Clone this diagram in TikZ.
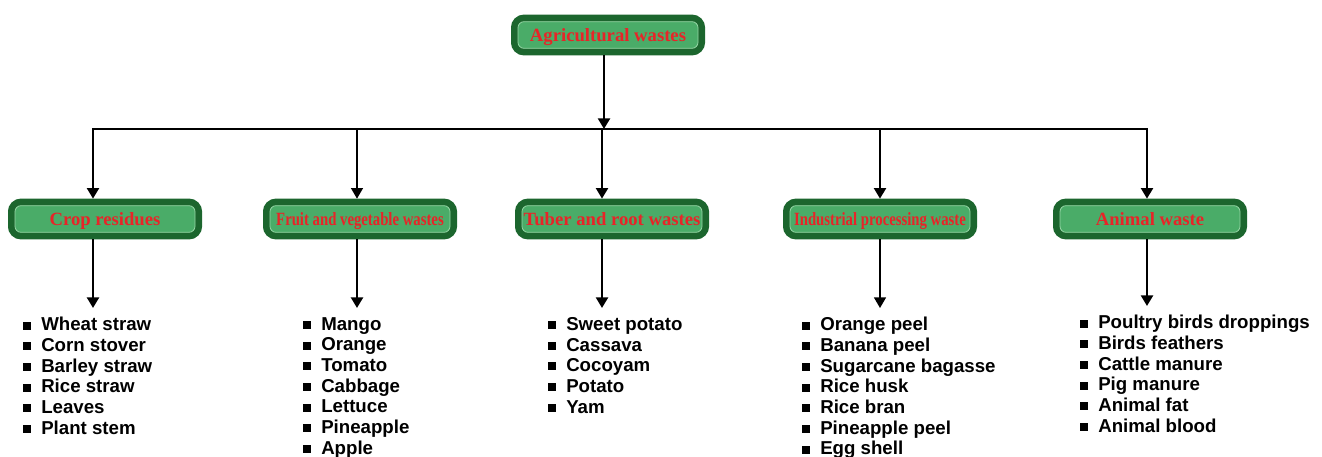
\documentclass[tikz,border=0pt]{standalone}
\usepackage{fontspec}
\usepackage{graphicx}
\setmainfont{Liberation Serif}
\newfontfamily\itemfont{Liberation Sans}
\usetikzlibrary{arrows.meta}

\definecolor{frameGreen}{RGB}{28,102,46}
\definecolor{fillGreen}{RGB}{74,172,104}
\definecolor{edgeGreen}{RGB}{150,214,165}
\definecolor{titleRed}{RGB}{232,36,40}

\newcommand\busRow{129}
\newcommand\boxRow{219}
\newcommand\listTop{308}
\newcommand\wasteBullet{\rule[1pt]{6pt}{6pt}\hspace{7.5pt}}
\newcommand\squeezed[1]{\scalebox{0.79}[1]{#1}}

\tikzset{
  wastebox/.style={rounded corners=4.5pt, fill=fillGreen, draw=edgeGreen, line width=0.6pt,
    preaction={draw=frameGreen, line width=10.5pt},
    minimum width=135pt, minimum height=20pt, inner sep=0pt, outer sep=5.25pt,
    text depth=0pt, text=titleRed, font=\bfseries\fontsize{14}{16}\selectfont},
  flow/.style={line width=1.8pt, -{Triangle[width=9pt,length=8pt]}},
  thinflow/.style={flow, line width=1.1pt},
  wastelist/.style={anchor=north west, align=left, inner sep=0pt, outer ysep=7pt,
    font=\itemfont\bfseries\fontsize{14}{15.5}\selectfont}
}

\begin{document}
\begin{tikzpicture}[x=0.75pt,y=-0.75pt]

    \useasboundingbox (0,0) rectangle (1322,457);

    \node[wastebox] (agri) at (608,35) {Agricultural wastes};

    \node[wastebox] (crop) at (105,\boxRow) {Crop residues};
    \node[wastebox] (fruit) at (360,\boxRow) {\squeezed{Fruit and vegetable wastes}};
    \node[wastebox] (tuber) at (612,\boxRow) {Tuber and root wastes};
    \node[wastebox] (industry) at (880,\boxRow) {\squeezed{Industrial processing waste}};
    \node[wastebox] (animal) at (1150,\boxRow) {Animal waste};

    \coordinate (busTop) at (604,\busRow);
    \coordinate (busCrop) at (93,\busRow);
    \coordinate (busFruit) at (357,\busRow);
    \coordinate (busTuber) at (602,\busRow);
    \coordinate (busIndustry) at (880,\busRow);
    \coordinate (busAnimal) at (1147,\busRow);

    \draw[flow] (agri.south -| busTop) -- (busTop);
    \draw[flow] (busTop) -- (busCrop) -- (busCrop |- crop.north);
    \draw[flow] (busTop) -- (busAnimal) -- (busAnimal |- animal.north);
    \draw[thinflow] (busFruit) -- (busFruit |- fruit.north);
    \draw[flow] (busTuber) -- (busTuber |- tuber.north);
    \draw[flow] (busIndustry) -- (busIndustry |- industry.north);

    \node[wastelist] (cropList) at (23,\listTop) {\wasteBullet Wheat straw\\ \wasteBullet Corn stover\\ \wasteBullet Barley straw\\ \wasteBullet Rice straw\\ \wasteBullet Leaves\\ \wasteBullet Plant stem};
    \node[wastelist] (fruitList) at (303,\listTop) {\wasteBullet Mango\\ \wasteBullet Orange\\ \wasteBullet Tomato\\ \wasteBullet Cabbage\\ \wasteBullet Lettuce\\ \wasteBullet Pineapple\\ \wasteBullet Apple};
    \node[wastelist] (tuberList) at (548,\listTop) {\wasteBullet Sweet potato\\ \wasteBullet Cassava\\ \wasteBullet Cocoyam\\ \wasteBullet Potato\\ \wasteBullet Yam};
    \node[wastelist] (industryList) at (802,\listTop) {\wasteBullet Orange peel\\ \wasteBullet Banana peel\\ \wasteBullet Sugarcane bagasse\\ \wasteBullet Rice husk\\ \wasteBullet Rice bran\\ \wasteBullet Pineapple peel\\ \wasteBullet Egg shell};
    \node[wastelist] (animalList) at (1080,306) {\wasteBullet Poultry birds droppings\\ \wasteBullet Birds feathers\\ \wasteBullet Cattle manure\\ \wasteBullet Pig manure\\ \wasteBullet Animal fat\\ \wasteBullet Animal blood};

    \draw[flow] (busCrop |- crop.south) -- (busCrop |- cropList.north);
    \draw[flow] (busFruit |- fruit.south) -- (busFruit |- fruitList.north);
    \draw[flow] (busTuber |- tuber.south) -- (busTuber |- tuberList.north);
    \draw[thinflow] (busIndustry |- industry.south) -- (busIndustry |- industryList.north);
    \draw[flow] (busAnimal |- animal.south) -- (busAnimal |- animalList.north);

\end{tikzpicture}
\end{document}
